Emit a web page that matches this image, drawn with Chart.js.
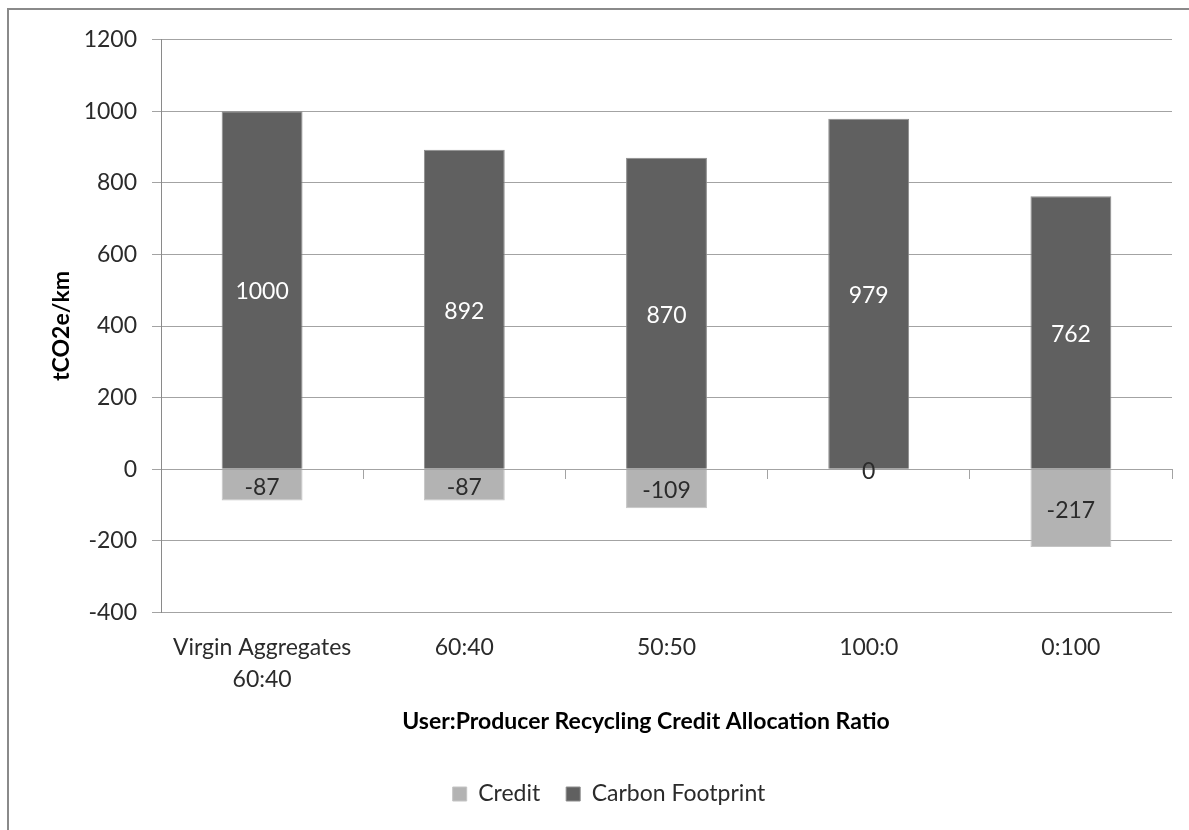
<!DOCTYPE html>
<html>
<head>
<meta charset="utf-8">
<title>Carbon footprint by recycling credit allocation ratio</title>
<script src="https://cdn.jsdelivr.net/npm/chart.js@4/dist/chart.umd.min.js"></script>
<style>
  html, body { margin: 0; padding: 0; background: #fff; overflow: hidden; }
  #wrap { position: relative; width: 1189px; height: 830px; }
  #frame {
    position: absolute; left: 7px; top: 8px; width: 1300px; height: 900px;
    border-top: 2px solid #8a8a8a; border-left: 2px solid #8a8a8a;
  }
  #chart { position: absolute; left: 0; top: 0; }
</style>
</head>
<body>
<div id="wrap">
  <div id="frame"></div>
  <canvas id="chart" width="1189" height="830"></canvas>
</div>
<script>
// Categories: user:producer split of the recycling credit
const categories = [['Virgin Aggregates', '60:40'], '60:40', '50:50', '100:0', '0:100'];
// Recycling credit (tCO2e/km), shown below zero
const credit = [-87, -87, -109, 0, -217];
// Carbon footprint (tCO2e/km)
const carbonFootprint = [1000, 892, 870, 979, 762];
// Value axis range and step
const yMin = -400, yMax = 1200, yStep = 200;

const FONT = 'Lato, "Open Sans", "DejaVu Sans", sans-serif';
const FS = 23;
const GRID = '#a3a3a3';

// Value labels in the middle of each bar segment
const barValueLabels = {
  id: 'barValueLabels',
  afterDatasetsDraw(chart) {
    const ctx = chart.ctx;
    ctx.save();
    ctx.font = FS + 'px ' + FONT;
    ctx.textAlign = 'center';
    ctx.textBaseline = 'middle';
    chart.data.datasets.forEach((ds, di) => {
      const meta = chart.getDatasetMeta(di);
      ctx.fillStyle = ds.labelColor;
      meta.data.forEach((el, i) => {
        const p = el.getProps(['x', 'y', 'base'], true);
        ctx.fillText(String(ds.data[i]), p.x, (p.y + p.base) / 2 + 2);
      });
    });
    ctx.restore();
  }
};

// Category axis title, centred under the chart body
const xAxisTitle = {
  id: 'xAxisTitle',
  afterDraw(chart) {
    const ctx = chart.ctx;
    ctx.save();
    ctx.font = 'bold ' + FS + 'px ' + FONT;
    ctx.fillStyle = '#000';
    ctx.textAlign = 'center';
    ctx.textBaseline = 'middle';
    ctx.fillText('User:Producer Recycling Credit Allocation Ratio', 646, 722);
    ctx.restore();
  }
};

new Chart(document.getElementById('chart'), {
  type: 'bar',
  data: {
    labels: categories,
    datasets: [
      {
        label: 'Credit',
        data: credit,
        backgroundColor: '#b3b3b3',
        borderColor: '#c4c4c4',
        borderWidth: 1,
        labelColor: '#2b2b2b',
        xAxisID: 'x'
      },
      {
        label: 'Carbon Footprint',
        data: carbonFootprint,
        backgroundColor: '#606060',
        borderColor: '#8c8c8c',
        borderWidth: 1,
        labelColor: '#ffffff',
        xAxisID: 'x'
      }
    ]
  },
  options: {
    responsive: false,
    animation: false,
    devicePixelRatio: 1,
    layout: { padding: { left: 46, right: 17, top: 39.5, bottom: 14.5 } },
    datasets: { bar: { barPercentage: 0.4, categoryPercentage: 1.0 } },
    plugins: {
      tooltip: { enabled: false },
      legend: {
        position: 'bottom',
        labels: {
          font: { family: FONT, size: FS },
          color: '#2b2b2b',
          boxWidth: 14,
          boxHeight: 14,
          padding: 26
        }
      }
    },
    scales: {
      x: {
        stacked: true,
        offset: true,
        grid: { display: false, drawTicks: false },
        border: { display: false },
        ticks: {
          font: { family: FONT, size: FS, lineHeight: 1.4 },
          color: '#2b2b2b',
          padding: 19,
          maxRotation: 0,
          autoSkip: false
        },
        afterFit(scale) { scale.height = 144; }
      },
      xZero: {
        type: 'category',
        axis: 'x',
        position: { y: 0 },
        offset: true,
        grid: { drawOnChartArea: false, drawTicks: true, tickLength: 9, color: GRID, offset: true },
        border: { display: true, color: GRID },
        ticks: { display: false }
      },
      y: {
        stacked: true,
        min: yMin,
        max: yMax,
        ticks: {
          stepSize: yStep,
          font: { family: FONT, size: FS },
          color: '#2b2b2b',
          padding: 15,
          callback: (v) => String(v)
        },
        grid: { color: GRID, tickLength: 9 },
        border: { display: true, color: '#8a8a8a' },
        title: {
          display: true,
          text: 'tCO2e/km',
          font: { family: FONT, size: FS, weight: 'bold' },
          color: '#000',
          padding: { top: 2, bottom: 0 }
        },
        afterFit(scale) { scale.width = 115; }
      }
    }
  },
  plugins: [barValueLabels, xAxisTitle]
});
</script>
</body>
</html>
